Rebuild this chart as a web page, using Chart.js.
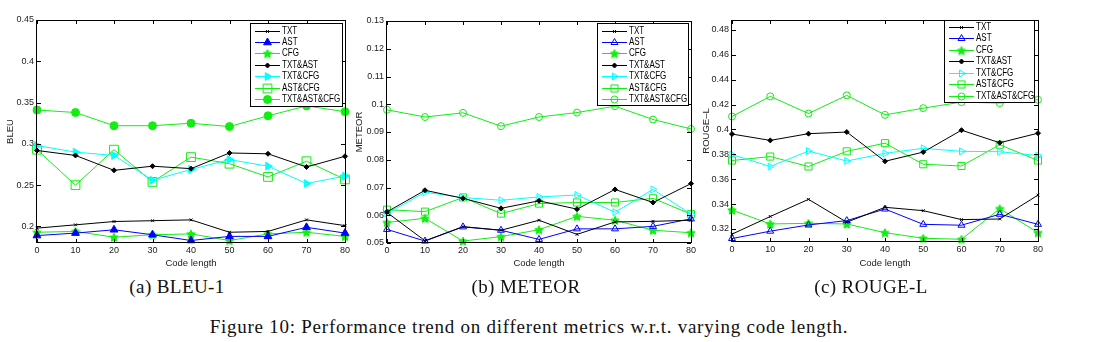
<!DOCTYPE html>
<html>
<head>
<meta charset="utf-8">
<script src="https://cdn.jsdelivr.net/npm/chart.js@4.4.1/dist/chart.umd.min.js"></script>
<style>
  body { margin: 0; background: #fff; width: 1113px; height: 342px; position: relative; overflow: hidden; }
  canvas { position: absolute; top: 0; }
  .cap { position: absolute; font-family: 'Liberation Serif', 'Times New Roman', serif; font-size: 19px; color: #111; white-space: nowrap; transform: translate(-50%, -50%); letter-spacing: 0.4px; }
  .fig { letter-spacing: 0.75px; }
</style>
</head>
<body>
<canvas id="bleuChart" width="355" height="275" style="left:0px"></canvas>
<canvas id="meteorChart" width="350" height="275" style="left:350px"></canvas>
<canvas id="rougeChart" width="415" height="275" style="left:698px"></canvas>
<div class="cap" style="left:177px;top:287px">(a) BLEU-1</div>
<div class="cap" style="left:526px;top:287px">(b) METEOR</div>
<div class="cap" style="left:871px;top:287px">(c) ROUGE-L</div>
<div class="cap fig" style="left:529px;top:327px">Figure 10: Performance trend on different metrics w.r.t. varying code length.</div>
<script>
// code length on the x axis
const codeLength = [0, 10, 20, 30, 40, 50, 60, 70, 80];
const seriesNames = ['TXT', 'AST', 'CFG', 'TXT&AST', 'TXT&CFG', 'AST&CFG', 'TXT&AST&CFG'];

// y tick values
const bleuTicks = [0.2, 0.25, 0.3, 0.35, 0.4, 0.45];
const meteorTicks = [0.05, 0.06, 0.07, 0.08, 0.09, 0.1, 0.11, 0.12, 0.13];
const rougeTicks = [0.32, 0.34, 0.36, 0.38, 0.4, 0.42, 0.44, 0.46, 0.48];

// BLEU-1
const bleuTxt = [0.198, 0.202, 0.206, 0.207, 0.208, 0.193, 0.194, 0.208, 0.201];
const bleuAst = [0.189, 0.192, 0.196, 0.190, 0.183, 0.188, 0.188, 0.199, 0.192];
const bleuCfg = [0.193, 0.194, 0.187, 0.190, 0.191, 0.183, 0.191, 0.193, 0.188];
const bleuTxtAst = [0.292, 0.286, 0.268, 0.273, 0.270, 0.289, 0.288, 0.272, 0.285];
const bleuTxtCfg = [0.298, 0.290, 0.286, 0.256, 0.269, 0.281, 0.273, 0.252, 0.261];
const bleuAstCfg = [0.293, 0.250, 0.293, 0.254, 0.284, 0.276, 0.260, 0.279, 0.257];
const bleuAll = [0.341, 0.338, 0.322, 0.322, 0.325, 0.321, 0.334, 0.346, 0.339];

// METEOR
const meteorTxt = [0.0610, 0.0508, 0.0559, 0.0546, 0.0582, 0.0531, 0.0576, 0.0578, 0.0582];
const meteorAst = [0.0549, 0.0507, 0.0558, 0.0546, 0.0513, 0.0551, 0.0551, 0.0560, 0.0587];
const meteorCfg = [0.0574, 0.0589, 0.0507, 0.0523, 0.0548, 0.0596, 0.0582, 0.0546, 0.0537];
const meteorTxtAst = [0.0612, 0.0690, 0.0661, 0.0625, 0.0652, 0.0622, 0.0693, 0.0646, 0.0714];
const meteorTxtCfg = [0.0606, 0.0683, 0.0664, 0.0654, 0.0666, 0.0673, 0.0611, 0.0693, 0.0604];
const meteorAstCfg = [0.0620, 0.0613, 0.0664, 0.0606, 0.0642, 0.0646, 0.0646, 0.0661, 0.0604];
const meteorAll = [0.0980, 0.0954, 0.0969, 0.0921, 0.0954, 0.0970, 0.0993, 0.0945, 0.0911];

// ROUGE-L
const rougeTxt = [0.3158, 0.3300, 0.3438, 0.3254, 0.3374, 0.3347, 0.3275, 0.3280, 0.3472];
const rougeAst = [0.3123, 0.3182, 0.3232, 0.3267, 0.3360, 0.3237, 0.3230, 0.3318, 0.3237];
const rougeCfg = [0.3352, 0.3240, 0.3245, 0.3240, 0.3170, 0.3125, 0.3117, 0.3363, 0.3170];
const rougeTxtAst = [0.3963, 0.3912, 0.3966, 0.3979, 0.3744, 0.3818, 0.3994, 0.3893, 0.3970];
const rougeTxtCfg = [0.3797, 0.3702, 0.3826, 0.3746, 0.3808, 0.3848, 0.3824, 0.3821, 0.3790];
const rougeAstCfg = [0.3750, 0.3782, 0.3702, 0.3824, 0.3890, 0.3720, 0.3706, 0.3877, 0.3750];
const rougeAll = [0.4104, 0.4266, 0.4128, 0.4274, 0.4117, 0.4171, 0.4220, 0.4212, 0.4239];

const FONT = "'Liberation Sans', Arial, sans-serif";
const GREEN = '#11ee11';

// 5 point star marker (matlab pentagram)
function makeStar(size, color) {
    const c = document.createElement('canvas');
    c.width = size; c.height = size;
    const g = c.getContext('2d');
    const r = size / 2, ri = r * 0.45;
    g.beginPath();
    for (let i = 0; i < 10; i++) {
        const rad = (i % 2 === 0 ? r - 0.5 : ri);
        const a = -Math.PI / 2 + i * Math.PI / 5;
        g.lineTo(r + rad * Math.cos(a), r + rad * Math.sin(a) + 0.5);
    }
    g.closePath();
    g.fillStyle = color; g.fill();
    g.strokeStyle = color; g.lineWidth = 1; g.stroke();
    return c;
}
const starImg = makeStar(10, GREEN);

// marker styles for each series, filled = panel (a)
function seriesStyle(i, filled) {
    const none = 'rgba(0,0,0,0)';
    switch (i) {
        case 0: return { color: '#000', style: 'crossRot', r: 2, bg: '#000' };
        case 1: return { color: '#0000ff', style: 'triangle', r: filled ? 4.5 : 4, bg: filled ? '#0000ff' : none };
        case 2: return { color: GREEN, style: starImg, r: 5, bg: GREEN };
        case 3: return { color: '#000', style: 'rectRot', r: 2.5, bg: '#000' };
        case 4: return { color: '#00ffff', style: 'triangle', r: filled ? 4.5 : 4, bg: filled ? '#00ffff' : none, rot: 90 };
        case 5: return { color: GREEN, style: 'rect', r: filled ? 6.2 : 5, bg: none };
        default: return { color: GREEN, style: 'circle', r: filled ? 4 : 3.5, bg: filled ? GREEN : none };
    }
}

function buildDatasets(seriesValues, filled) {
    return seriesValues.map((vals, i) => {
        const s = seriesStyle(i, filled);
        return {
            label: seriesNames[i],
            data: codeLength.map((x, j) => ({ x: x, y: vals[j] })),
            borderColor: s.color,
            borderWidth: 1,
            pointStyle: s.style,
            pointRadius: s.r,
            pointRotation: s.rot || 0,
            pointBackgroundColor: s.bg,
            pointBorderColor: s.color,
            pointBorderWidth: 1,
            tension: 0,
            fill: false,
            clip: false
        };
    });
}

// axes box, inward ticks and the boxed legend
const frameLegend = {
    id: 'frameLegend',
    afterDatasetsDraw(chart, args, opts) {
        const ctx = chart.ctx, a = chart.chartArea;
        ctx.save();
        ctx.strokeStyle = '#000';
        ctx.lineWidth = 1;
        ctx.strokeRect(Math.round(a.left) - 0.5, Math.round(a.top) + 0.5, Math.round(a.right - a.left) + 1, Math.round(a.bottom - a.top) - 1);
        const xs = chart.scales.x, ys = chart.scales.y;
        ctx.beginPath();
        xs.ticks.forEach(t => {
            const px = Math.round(xs.getPixelForValue(t.value)) + 0.5;
            ctx.moveTo(px, a.bottom); ctx.lineTo(px, a.bottom - 4);
            ctx.moveTo(px, a.top); ctx.lineTo(px, a.top + 4);
        });
        ys.ticks.forEach(t => {
            const py = Math.round(ys.getPixelForValue(t.value)) + 0.5;
            ctx.moveTo(a.left, py); ctx.lineTo(a.left + 4, py);
            ctx.moveTo(a.right, py); ctx.lineTo(a.right - 4, py);
        });
        ctx.stroke();

        // legend
        const w = opts.width, h = opts.height;
        const x0 = Math.round(a.right - opts.insetRight - w), y0 = Math.round(a.top + opts.insetTop);
        ctx.fillStyle = '#fff';
        ctx.fillRect(x0, y0, w, h);
        ctx.strokeStyle = '#000';
        ctx.strokeRect(x0 + 0.5, y0 + 0.5, w, h);
        ctx.font = '10px ' + FONT;
        ctx.textBaseline = 'middle';
        chart.data.datasets.forEach((ds, i) => {
            const y = Math.round(y0 + opts.firstRow + i * opts.rowGap) + 0.5;
            ctx.strokeStyle = ds.borderColor;
            ctx.lineWidth = 1;
            ctx.beginPath();
            ctx.moveTo(x0 + 5, y); ctx.lineTo(x0 + 30, y);
            ctx.stroke();
            ctx.fillStyle = ds.pointBackgroundColor;
            ctx.strokeStyle = ds.pointBorderColor;
            Chart.helpers.drawPoint(ctx, { pointStyle: ds.pointStyle, radius: ds.pointRadius, rotation: ds.pointRotation, borderWidth: 1 }, x0 + 17.5, y);
            // narrow text like the matlab export
            ctx.save();
            ctx.translate(x0 + 32, y);
            ctx.scale(0.8, 1);
            ctx.fillStyle = '#000';
            ctx.fillText(ds.label, 0, 0);
            ctx.restore();
        });
        ctx.restore();
    }
};

function makeChart(id, cfg) {
    const ctx = document.getElementById(id).getContext('2d');
    return new Chart(ctx, {
        type: 'line',
        data: { datasets: buildDatasets(cfg.series, cfg.filled) },
        plugins: [frameLegend],
        options: {
            responsive: false,
            animation: false,
            layout: { padding: { left: 0, top: cfg.top, right: cfg.right, bottom: 0 } },
            plugins: {
                legend: { display: false },
                tooltip: { enabled: false },
                frameLegend: cfg.legend
            },
            scales: {
                x: {
                    type: 'linear', min: 0, max: 80,
                    afterBuildTicks: s => { s.ticks = codeLength.map(v => ({ value: v })); },
                    afterFit: s => { s.height = cfg.xAxisH; },
                    grid: { display: false, drawTicks: false },
                    border: { display: false },
                    ticks: { padding: 2, autoSkip: false, maxRotation: 0, color: '#222', font: { size: 9, family: FONT } },
                    title: { display: true, text: 'Code length', color: '#222', font: { size: 9.5, family: FONT }, padding: { top: 0, bottom: 6 } }
                },
                y: {
                    type: 'linear', min: cfg.yMin, max: cfg.yMax,
                    afterBuildTicks: s => { s.ticks = cfg.yTicks.map(v => ({ value: v })); },
                    afterFit: s => { s.width = cfg.yAxisW; },
                    grid: { display: false, drawTicks: false },
                    border: { display: false },
                    ticks: { padding: 3, color: '#222', font: { size: 9, family: FONT }, callback: v => String(+v.toFixed(2)) },
                    title: { display: true, text: cfg.yLabel, color: '#222', font: { size: 9.5, family: FONT }, padding: { top: cfg.titleOff, bottom: 0 } }
                }
            }
        }
    });
}

makeChart('bleuChart', {
    series: [bleuTxt, bleuAst, bleuCfg, bleuTxtAst, bleuTxtCfg, bleuAstCfg, bleuAll],
    filled: true, yLabel: 'BLEU', yMin: 0.18, yMax: 0.45, yTicks: bleuTicks,
    top: 20, right: 10, xAxisH: 32, yAxisW: 37, titleOff: 5,
    legend: { width: 92, height: 83, insetRight: 3, insetTop: 3, firstRow: 7.5, rowGap: 11.4 }
});

makeChart('meteorChart', {
    series: [meteorTxt, meteorAst, meteorCfg, meteorTxtAst, meteorTxtCfg, meteorAstCfg, meteorAll],
    filled: false, yLabel: 'METEOR', yMin: 0.05, yMax: 0.13, yTicks: meteorTicks,
    top: 21, right: 9, xAxisH: 32, yAxisW: 37, titleOff: 4,
    legend: { width: 91, height: 82, insetRight: 3, insetTop: 2, firstRow: 7.5, rowGap: 11.4 }
});

makeChart('rougeChart', {
    series: [rougeTxt, rougeAst, rougeCfg, rougeTxtAst, rougeTxtCfg, rougeAstCfg, rougeAll],
    filled: false, yLabel: 'ROUGE\u2013L', yMin: 0.3095, yMax: 0.488, yTicks: rougeTicks,
    top: 20, right: 75, xAxisH: 33, yAxisW: 34, titleOff: 3,
    legend: { width: 90, height: 82, insetRight: 4, insetTop: 0, firstRow: 6.8, rowGap: 11.5 }
});
</script>
</body>
</html>
